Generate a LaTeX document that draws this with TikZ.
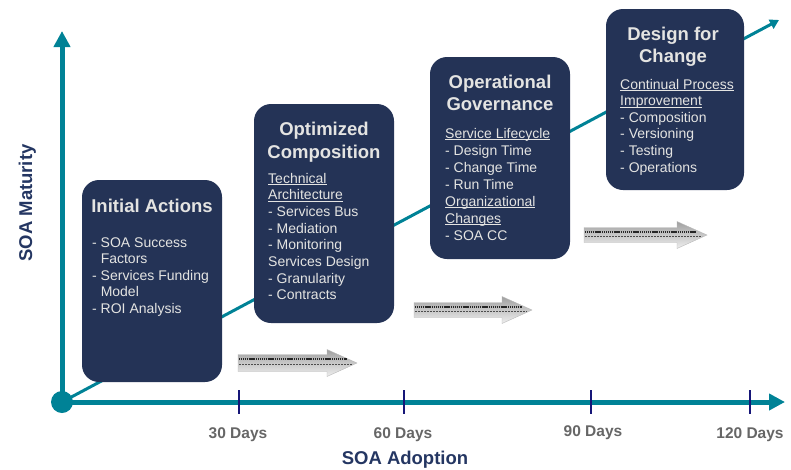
\documentclass[tikz,border=0pt]{standalone}
\usepackage{fontspec}
\setmainfont{Liberation Sans}
\usetikzlibrary{arrows.meta}
\definecolor{tealc}{RGB}{0,130,150}
\definecolor{boxc}{RGB}{36,51,86}
\definecolor{boxtxt}{RGB}{228,228,226}
\definecolor{tickc}{RGB}{22,22,120}
\definecolor{daysc}{RGB}{102,102,102}
\definecolor{axlab}{RGB}{36,54,98}
\newcommand\ulin[1]{\setbox0\hbox{#1}\rlap{\rule[-2.2pt]{\wd0}{0.8pt}}#1}
\newcommand\grayarrow[7]{% name, x0, xh, xt, yc, half body, half head
  \path[top color=gray!75, bottom color=gray!12, draw=gray!55, line width=0.4pt]
    (#2,#5-#6) -- (#3,#5-#6) -- (#3,#5-#7) -- (#4,#5) -- (#3,#5+#7) -- (#3,#5+#6) -- (#2,#5+#6) -- cycle;
  \draw[black!85, line width=2.2pt, dash pattern=on 1.2pt off 0.7pt] (#2+1,#5-#6*0.45) -- (#4-10,#5-#6*0.45);
  \draw[black!70, line width=1.1pt, dash pattern=on 2pt off 1pt] (#2+1,#5+#6*0.2) -- (#4-5,#5+#6*0.2);
  \coordinate (#1) at (#4,#5);
}
\begin{document}
\begin{tikzpicture}[x=1pt,y=-1pt,
  phase/.style={fill=boxc, draw=none, rounded corners=17pt, inner sep=0pt},
  ttl/.style={text=boxtxt, font=\fontsize{18.5}{23}\selectfont\bfseries, inner sep=0pt},
  item/.style={text=boxtxt, font=\fontsize{14}{17}\selectfont, inner sep=0pt},
  axis/.style={tealc, line width=5pt, -{Triangle[width=16pt,length=16pt]}},
  tick/.style={tickc, line width=2.2pt},
  days/.style={text=daysc, font=\fontsize{15.5}{18}\selectfont\bfseries, inner sep=0pt, anchor=base},
  axl/.style={text=axlab, font=\fontsize{18.5}{22}\selectfont\bfseries, inner sep=0pt, anchor=base}]
\useasboundingbox (0,0) rectangle (791,469);

% diagonal growth line
\coordinate (O) at (62,402);
\coordinate (dtip) at (779,20);
\coordinate (ytip) at (62,31);
\coordinate (xtip) at (785,402);
\draw[tealc, line width=3pt, -{Triangle[width=10pt,length=9pt]}] (O) -- (dtip);

% boxes
\node[phase, minimum width=140pt, minimum height=202pt] (b1) at (152,281) {};
\node[phase, minimum width=140pt, minimum height=219pt] (b2) at (324,213.5) {};
\node[phase, minimum width=140pt, minimum height=202pt] (b3) at (500,158) {};
\node[phase, minimum width=138pt, minimum height=181pt] (b4) at (675,99.5) {};

% box 1
\node[ttl, anchor=base] (t1) at (152,212) {Initial Actions};
\foreach [count=\i from 0] \t in {{- SOA Success},{\phantom{- }Factors},{- Services Funding},{\phantom{- }Model},{- ROI Analysis}}
  \node[item, anchor=base west] (b1i\i) at (92,247+\i*16.5) {\t};

% box 2
\node[ttl, anchor=base] (t2a) at (324,135) {Optimized};
\node[ttl, anchor=base] (t2b) at (324,158) {Composition};
\foreach [count=\i from 0] \t in {{\ulin{Technical}},{\ulin{Architecture}},{- Services Bus},{- Mediation},{- Monitoring},{Services Design},{- Granularity},{- Contracts}}
  \node[item, anchor=base west] (b2i\i) at (268,183+\i*16.7) {\t};

% box 3
\node[ttl, anchor=base] (t3a) at (500,88) {Operational};
\node[ttl, anchor=base] (t3b) at (500,110) {Governance};
\foreach [count=\i from 0] \t in {{\ulin{Service Lifecycle}},{- Design Time},{- Change Time},{- Run Time},{\ulin{Organizational}},{\ulin{Changes}},{- SOA CC}}
  \node[item, anchor=base west] (b3i\i) at (445,138+\i*17) {\t};

% box 4
\node[ttl, anchor=base] (t4a) at (673,40) {Design for};
\node[ttl, anchor=base] (t4b) at (673,62) {Change};
\foreach [count=\i from 0] \t in {{\ulin{Continual Process}},{\ulin{Improvement}},{- Composition},{- Versioning},{- Testing},{- Operations}}
  \node[item, anchor=base west] (b4i\i) at (620,89+\i*16.6) {\t};

% gray block arrows
\grayarrow{g1}{238}{327}{357}{363}{8.5}{13.5}
\grayarrow{g2}{414}{502}{532}{310}{7.5}{13.5}
\grayarrow{g3}{584}{677}{707}{235}{7.5}{13.5}

% axes
\draw[axis] (O) -- (ytip);
\draw[axis] (O) -- (xtip);
\fill[tealc] (O) circle (11pt);

% ticks
\foreach \x/\n in {239/a,404/b,591/c,750/d} {
  \coordinate (tk\n1) at (\x,390);
  \coordinate (tk\n2) at (\x,414);
  \draw[tick] (tk\n1) -- (tk\n2);
}

% labels
\node[days] (d30) at (238,438) {30 Days};
\node[days] (d60) at (403,438) {60 Days};
\node[days] (d90) at (593,436) {90 Days};
\node[days] (d120) at (750,438) {120 Days};
\node[axl] (xl) at (405,464) {SOA Adoption};
\node[axl, rotate=90] (yl) at (32,203) {SOA Maturity};
\end{tikzpicture}
\end{document}
